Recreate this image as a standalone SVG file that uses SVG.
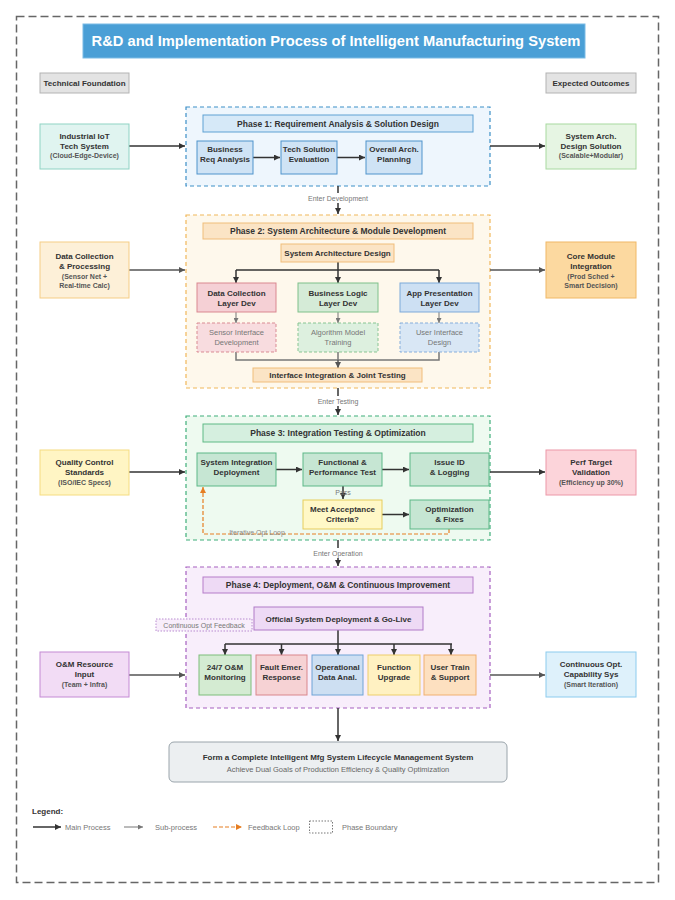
<svg xmlns="http://www.w3.org/2000/svg" width="675" height="900" viewBox="0 0 675 900">
<defs>
<style>
text{font-family:"Liberation Sans",Arial,Helvetica,sans-serif;text-anchor:middle;fill:#333}
.b{font-weight:bold;font-size:8px}
.h{font-weight:bold;font-size:8.5px}
.p{font-weight:bold;font-size:7px;fill:#555}
.s{font-size:7.5px;fill:#777}
.l{font-size:7px;fill:#777}
.lg{font-size:7.5px;fill:#777;text-anchor:start}
.main{fill:none;stroke:#333;stroke-width:1.5}
.side{fill:none;stroke:#555;stroke-width:1.5}
.sub{fill:none;stroke:#777;stroke-width:1}
.fb{fill:none;stroke:#e67e22;stroke-width:1.2;stroke-dasharray:4 2}
.phase{stroke-width:1.2;stroke-dasharray:4 3}
.dash{stroke-dasharray:3 2}
</style>
<marker id="ah" viewBox="0 0 10 10" refX="10" refY="5" markerWidth="6" markerHeight="6" markerUnits="userSpaceOnUse" orient="auto"><path d="M0,0 L10,5 L0,10 z" fill="#333"/></marker>
<marker id="ahs" viewBox="0 0 10 10" refX="10" refY="5" markerWidth="6" markerHeight="6" markerUnits="userSpaceOnUse" orient="auto"><path d="M0,0 L10,5 L0,10 z" fill="#555"/></marker>
<marker id="ahg" viewBox="0 0 10 10" refX="10" refY="5" markerWidth="5" markerHeight="5" markerUnits="userSpaceOnUse" orient="auto"><path d="M0,0 L10,5 L0,10 z" fill="#777"/></marker>
<marker id="aho" viewBox="0 0 10 10" refX="10" refY="5" markerWidth="6" markerHeight="6" markerUnits="userSpaceOnUse" orient="auto"><path d="M0,0 L10,5 L0,10 z" fill="#e67e22"/></marker>
</defs>
<rect width="675" height="900" fill="#fff"/>
<rect x="16.5" y="16.5" width="642" height="866" fill="none" stroke="#666" stroke-width="1.5" stroke-dasharray="8 4"/>

<g id="title">
<rect x="83" y="24" width="502" height="34" fill="#4a9fd6" stroke="#7bbbe6" stroke-width="1"/>
<text x="336" y="46" style="font-size:14.7px;font-weight:bold;fill:#fff">R&amp;D and Implementation Process of Intelligent Manufacturing System</text>
</g>
<g id="tech-foundation">
<rect x="40" y="73" width="89" height="20" fill="#e3e3e3" stroke="#b3b3b3"/>
<text class="b" x="84.5" y="86">Technical Foundation</text>
</g>
<g id="expected-outcomes">
<rect x="546" y="73" width="90" height="20" fill="#e3e3e3" stroke="#b3b3b3"/>
<text class="b" x="591" y="86">Expected Outcomes</text>
</g>

<!-- Phase containers -->
<g id="phase1">
<rect class="phase" x="186" y="107" width="304" height="79" fill="#eef6fd" stroke="#3d8fc7"/>
<rect x="203" y="115" width="270" height="17" fill="#d6e9f8" stroke="#5ea1d4"/>
<text class="h" x="338" y="126.5">Phase 1: Requirement Analysis &amp; Solution Design</text>
</g>
<g id="phase2">
<rect class="phase" x="186" y="215" width="304" height="173" fill="#fef8ec" stroke="#f0b75a"/>
<rect x="203" y="223" width="270" height="16" fill="#fbe4c5" stroke="#f0bd7a"/>
<text class="h" x="338" y="234">Phase 2: System Architecture &amp; Module Development</text>
</g>
<g id="phase3">
<rect class="phase" x="186" y="416" width="304" height="124" fill="#eefaf0" stroke="#3fae7a"/>
<rect x="203" y="424" width="270" height="18" fill="#d5efdf" stroke="#5fba85"/>
<text class="h" x="338" y="436">Phase 3: Integration Testing &amp; Optimization</text>
</g>
<g id="phase4">
<rect class="phase" x="186" y="567" width="304" height="141" fill="#f8eefb" stroke="#a660c0"/>
<rect x="203" y="577" width="270" height="16" fill="#eedaf5" stroke="#b57cc9"/>
<text class="h" x="338" y="588">Phase 4: Deployment, O&amp;M &amp; Continuous Improvement</text>
</g>

<!-- Connectors -->
<g id="connectors">
<path class="main" d="M129,146 H185" marker-end="url(#ah)"/>
<path class="main" d="M490,146 H545" marker-end="url(#ah)"/>
<path class="main" d="M253,157.5 H280" marker-end="url(#ah)"/>
<path class="main" d="M337,157.5 H365" marker-end="url(#ah)"/>
<path class="main" d="M338,186 V214" marker-end="url(#ah)"/>
<path class="side" d="M129,270 H185" marker-end="url(#ahs)"/>
<path class="side" d="M490,270 H545" marker-end="url(#ahs)"/>
<path class="main" d="M338,262 V270 M236,270 H439"/>
<path class="main" d="M236,270 V283" marker-end="url(#ah)"/>
<path class="main" d="M338,270 V283" marker-end="url(#ah)"/>
<path class="main" d="M439,270 V283" marker-end="url(#ah)"/>
<path class="sub" d="M236,312 V323" marker-end="url(#ahg)"/>
<path class="sub" d="M338,312 V323" marker-end="url(#ahg)"/>
<path class="sub" d="M439,312 V323" marker-end="url(#ahg)"/>
<path fill="none" stroke="#777" stroke-width="1.5" d="M236,352 V360 H439 V352 M338,352 V360"/>
<path class="side" d="M338,360 V368" marker-end="url(#ahs)"/>
<path class="main" d="M338,388 V415" marker-end="url(#ah)"/>
<path class="main" d="M129,472 H185" marker-end="url(#ah)"/>
<path class="main" d="M490,472 H545" marker-end="url(#ah)"/>
<path class="main" d="M276,469.5 H302" marker-end="url(#ah)"/>
<path class="main" d="M382,469.5 H409" marker-end="url(#ah)"/>
<path class="main" d="M343,486 V499" marker-end="url(#ah)"/>
<path class="main" d="M382,514.5 H409" marker-end="url(#ah)"/>
<path class="fb" d="M449,529 V534 H203 V487" marker-end="url(#aho)"/>
<path class="main" d="M338,540 V566" marker-end="url(#ah)"/>
<path class="main" d="M338,630 V644 M225,644 H452"/>
<path class="main" d="M225,644 V655" marker-end="url(#ah)"/>
<path class="main" d="M281.5,644 V655" marker-end="url(#ah)"/>
<path class="main" d="M338,644 V655" marker-end="url(#ah)"/>
<path class="main" d="M394,644 V655" marker-end="url(#ah)"/>
<path class="main" d="M451,644 V655" marker-end="url(#ah)"/>
<path class="side" d="M129,675 H185" marker-end="url(#ahs)"/>
<path class="side" d="M490,675 H545" marker-end="url(#ahs)"/>
<path class="main" d="M338,708 V741" marker-end="url(#ah)"/>
<rect x="300" y="193" width="76" height="10" fill="#fff"/>
<text class="l" x="338" y="200.5">Enter Development</text>
<rect x="312" y="396" width="52" height="10" fill="#fff"/>
<text class="l" x="338" y="403.5">Enter Testing</text>
<rect x="306" y="548" width="64" height="10" fill="#fff"/>
<text class="l" x="338" y="555.5">Enter Operation</text>
<text class="l" x="343" y="494.5">Pass</text>
<text class="l" x="257" y="534.5" style="fill:#888">Iterative Opt Loop</text>
</g>

<!-- Left inputs -->
<g id="iot">
<rect x="40" y="124" width="89" height="45" fill="#e0f4f0" stroke="#8fd3c4"/>
<text class="b" x="84.5" y="139">Industrial IoT</text>
<text class="b" x="84.5" y="148.7">Tech System</text>
<text class="p" x="84.5" y="157.8">(Cloud-Edge-Device)</text>
</g>
<g id="data-collection">
<rect x="40" y="242" width="89" height="56" fill="#fdf0d8" stroke="#f5cd85"/>
<text class="b" x="84.5" y="259">Data Collection</text>
<text class="b" x="84.5" y="269">&amp; Processing</text>
<text class="p" x="84.5" y="278.5">(Sensor Net +</text>
<text class="p" x="84.5" y="287.8">Real-time Calc)</text>
</g>
<g id="quality-control">
<rect x="40" y="450" width="89" height="45" fill="#fff5c4" stroke="#f5dc80"/>
<text class="b" x="84.5" y="464.7">Quality Control</text>
<text class="b" x="84.5" y="474.7">Standards</text>
<text class="p" x="84.5" y="484.5">(ISO/IEC Specs)</text>
</g>
<g id="om-resource">
<rect x="40" y="652" width="89" height="45" fill="#f2dcf5" stroke="#c48ad4"/>
<text class="b" x="84.5" y="667">O&amp;M Resource</text>
<text class="b" x="84.5" y="677">Input</text>
<text class="p" x="84.5" y="687">(Team + Infra)</text>
</g>

<!-- Right outputs -->
<g id="sys-arch">
<rect x="546" y="124" width="90" height="45" fill="#e6f5e3" stroke="#a8d9a0"/>
<text class="b" x="591" y="139">System Arch.</text>
<text class="b" x="591" y="148.7">Design Solution</text>
<text class="p" x="591" y="157.8">(Scalable+Modular)</text>
</g>
<g id="core-module">
<rect x="546" y="242" width="90" height="56" fill="#fcd9a0" stroke="#f0b866"/>
<text class="b" x="591" y="259">Core Module</text>
<text class="b" x="591" y="269">Integration</text>
<text class="p" x="591" y="278.5">(Prod Sched +</text>
<text class="p" x="591" y="287.8">Smart Decision)</text>
</g>
<g id="perf-target">
<rect x="546" y="450" width="90" height="45" fill="#fcd4da" stroke="#ec98a8"/>
<text class="b" x="591" y="464.7">Perf Target</text>
<text class="b" x="591" y="474.7">Validation</text>
<text class="p" x="591" y="484.5">(Efficiency up 30%)</text>
</g>
<g id="continuous-opt">
<rect x="546" y="652" width="90" height="45" fill="#def1fb" stroke="#8ccbee"/>
<text class="b" x="591" y="667">Continuous Opt.</text>
<text class="b" x="591" y="677">Capability Sys</text>
<text class="p" x="591" y="687">(Smart Iteration)</text>
</g>

<!-- Phase 1 nodes -->
<g id="business-req">
<rect x="197" y="141" width="56" height="33" fill="#cfe3f5" stroke="#4f93cc"/>
<text class="b" x="225" y="152">Business</text>
<text class="b" x="225" y="162.3">Req Analysis</text>
</g>
<g id="tech-solution">
<rect x="281" y="141" width="56" height="33" fill="#cfe3f5" stroke="#4f93cc"/>
<text class="b" x="309" y="152">Tech Solution</text>
<text class="b" x="309" y="162.3">Evaluation</text>
</g>
<g id="overall-arch">
<rect x="366" y="141" width="56" height="33" fill="#cfe3f5" stroke="#4f93cc"/>
<text class="b" x="394" y="152">Overall Arch.</text>
<text class="b" x="394" y="162.3">Planning</text>
</g>

<!-- Phase 2 nodes -->
<g id="sys-arch-design">
<rect x="281" y="244" width="113" height="18" fill="#fbe4c5" stroke="#f0bd7a"/>
<text class="b" x="337.5" y="256">System Architecture Design</text>
</g>
<g id="data-layer">
<rect x="197" y="283" width="79" height="29" fill="#f5d0d5" stroke="#d9878f"/>
<text class="b" x="236.5" y="295.5">Data Collection</text>
<text class="b" x="236.5" y="305.5">Layer Dev</text>
</g>
<g id="logic-layer">
<rect x="298" y="283" width="80" height="29" fill="#d5ebd7" stroke="#7fc08a"/>
<text class="b" x="338" y="295.5">Business Logic</text>
<text class="b" x="338" y="305.5">Layer Dev</text>
</g>
<g id="app-layer">
<rect x="400" y="283" width="79" height="29" fill="#cde0f3" stroke="#7ca9d9"/>
<text class="b" x="439.5" y="295.5">App Presentation</text>
<text class="b" x="439.5" y="305.5">Layer Dev</text>
</g>
<g id="sensor-interface">
<rect class="dash" x="197" y="323" width="79" height="29" fill="#f8dcdf" stroke="#d98b93"/>
<text class="s" x="236.5" y="335">Sensor Interface</text>
<text class="s" x="236.5" y="345">Development</text>
</g>
<g id="algorithm-model">
<rect class="dash" x="298" y="323" width="80" height="29" fill="#ddf0df" stroke="#88c592"/>
<text class="s" x="338" y="335">Algorithm Model</text>
<text class="s" x="338" y="345">Training</text>
</g>
<g id="ui-design">
<rect class="dash" x="400" y="323" width="79" height="29" fill="#d9e7f5" stroke="#86aedb"/>
<text class="s" x="439.5" y="335">User Interface</text>
<text class="s" x="439.5" y="345">Design</text>
</g>
<g id="interface-integration">
<rect x="253" y="368" width="169" height="14" fill="#fbe4c5" stroke="#f0bd7a"/>
<text class="b" x="337.5" y="378">Interface Integration &amp; Joint Testing</text>
</g>

<!-- Phase 3 nodes -->
<g id="sys-integration">
<rect x="197" y="453" width="79" height="33" fill="#c6e6d3" stroke="#5cb887"/>
<text class="b" x="236.5" y="464.7">System Integration</text>
<text class="b" x="236.5" y="474.7">Deployment</text>
</g>
<g id="func-perf-test">
<rect x="303" y="453" width="79" height="33" fill="#c6e6d3" stroke="#5cb887"/>
<text class="b" x="342.5" y="464.7">Functional &amp;</text>
<text class="b" x="342.5" y="474.7">Performance Test</text>
</g>
<g id="issue-id">
<rect x="410" y="453" width="79" height="33" fill="#c6e6d3" stroke="#5cb887"/>
<text class="b" x="449.5" y="464.7">Issue ID</text>
<text class="b" x="449.5" y="474.7">&amp; Logging</text>
</g>
<g id="acceptance">
<rect x="303" y="500" width="79" height="29" fill="#fff8c7" stroke="#e6cd5c"/>
<text class="b" x="342.5" y="512.3">Meet Acceptance</text>
<text class="b" x="342.5" y="522.3">Criteria?</text>
</g>
<g id="optimization">
<rect x="410" y="500" width="79" height="29" fill="#c6e6d3" stroke="#5cb887"/>
<text class="b" x="449.5" y="512.3">Optimization</text>
<text class="b" x="449.5" y="522.3">&amp; Fixes</text>
</g>

<!-- Phase 4 nodes -->
<g id="go-live">
<rect x="254" y="607" width="169" height="23" fill="#eedaf5" stroke="#b07ac8"/>
<text class="b" x="338.5" y="622">Official System Deployment &amp; Go-Live</text>
</g>
<g id="opt-feedback">
<rect x="156" y="619" width="96" height="12" fill="#f8eefb" stroke="#b98cd0" stroke-dasharray="1.5 1.5"/>
<text class="l" x="204" y="627.5">Continuous Opt Feedback</text>
</g>
<g id="monitoring">
<rect x="199" y="655" width="52" height="40" fill="#d4ebd2" stroke="#7cbd7a"/>
<text class="b" x="225" y="669.7">24/7 O&amp;M</text>
<text class="b" x="225" y="679.7">Monitoring</text>
</g>
<g id="fault-response">
<rect x="256" y="655" width="51" height="40" fill="#f6d2d4" stroke="#d9868c"/>
<text class="b" x="281.5" y="669.7">Fault Emer.</text>
<text class="b" x="281.5" y="679.7">Response</text>
</g>
<g id="data-analysis">
<rect x="312" y="655" width="51" height="40" fill="#cddff2" stroke="#6fa3d6"/>
<text class="b" x="337.5" y="669.7">Operational</text>
<text class="b" x="337.5" y="679.7">Data Anal.</text>
</g>
<g id="function-upgrade">
<rect x="368" y="655" width="52" height="40" fill="#fff1c2" stroke="#edce6a"/>
<text class="b" x="394" y="669.7">Function</text>
<text class="b" x="394" y="679.7">Upgrade</text>
</g>
<g id="user-training">
<rect x="424" y="655" width="52" height="40" fill="#fde0c0" stroke="#f0b070"/>
<text class="b" x="450" y="669.7">User Train</text>
<text class="b" x="450" y="679.7">&amp; Support</text>
</g>

<!-- Final -->
<g id="lifecycle">
<rect x="169" y="742" width="338" height="40" rx="5" fill="#eceff1" stroke="#9aa4ab"/>
<text class="b" x="338" y="759.5">Form a Complete Intelligent Mfg System Lifecycle Management System</text>
<text class="s" x="338" y="772" style="fill:#666">Achieve Dual Goals of Production Efficiency &amp; Quality Optimization</text>
</g>

<!-- Legend -->
<g id="legend">
<text class="b" x="32" y="813.5" style="text-anchor:start">Legend:</text>
<path class="main" d="M33,827 H61" marker-end="url(#ah)"/>
<text class="lg" x="65" y="829.5">Main Process</text>
<path class="sub" d="M124,827 H143" marker-end="url(#ahg)"/>
<text class="lg" x="155" y="829.5">Sub-process</text>
<path class="fb" d="M213,827 H242" marker-end="url(#aho)" stroke-dasharray="3 2"/>
<text class="lg" x="248" y="829.5">Feedback Loop</text>
<rect x="309.5" y="821" width="23" height="12" fill="none" stroke="#777" stroke-dasharray="1.5 1.5"/>
<text class="lg" x="342" y="829.5">Phase Boundary</text>
</g>
</svg>
